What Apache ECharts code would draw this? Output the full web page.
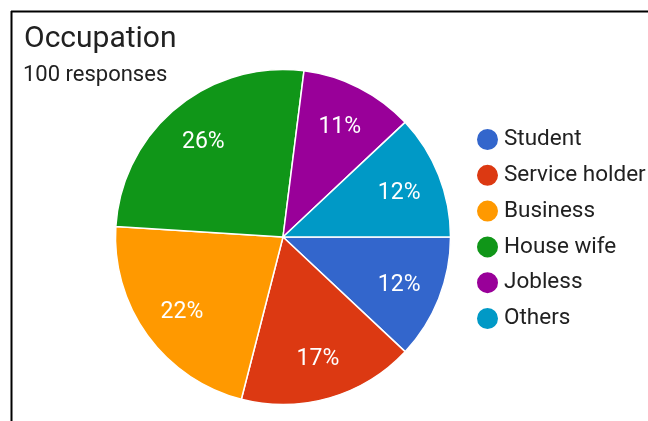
<!DOCTYPE html>
<html>
<head>
<meta charset="utf-8">
<script src="https://cdn.jsdelivr.net/npm/echarts@6/dist/echarts.min.js"></script>
<style>
  html, body { margin: 0; padding: 0; background: #fff; }
  #chart { width: 648px; height: 421px; }
</style>
</head>
<body>
<div id="chart"></div>
<script>
// Survey answers for the "Occupation" question (100 responses)
const categories = ['Student', 'Service holder', 'Business', 'House wife', 'Jobless', 'Others'];
const shares = [12, 17, 22, 26, 11, 12];
const colors = ['#3366cc', '#dc3912', '#ff9900', '#109618', '#990099', '#0099c6'];
const titleText = 'Occupation';
const subtitleText = '100 responses';

const FONT = 'Roboto, "Noto Sans", Arial, sans-serif';
const pieData = categories.map((name, i) => ({ name, value: shares[i] }));

const chart = echarts.init(document.getElementById('chart'), null, { renderer: 'canvas' });

chart.setOption({
  animation: false,
  color: colors,
  title: [
    {
      text: titleText,
      left: 19, top: 19,
      textStyle: { fontFamily: FONT, fontSize: 30, fontWeight: 'normal', color: '#212121' }
    },
    {
      text: subtitleText,
      left: 18, top: 59,
      textStyle: { fontFamily: FONT, fontSize: 22, fontWeight: 'normal', color: '#212121' }
    }
  ],
  legend: {
    orient: 'vertical',
    left: 470, top: 122,
    icon: 'circle',
    itemWidth: 23, itemHeight: 23,
    itemGap: 10.8,
    selectedMode: false,
    data: categories,
    textStyle: { fontFamily: FONT, fontSize: 22.5, color: '#212121', lineHeight: 23 }
  },
  graphic: [
    { type: 'line', shape: { x1: 11.5, y1: 11, x2: 11.5, y2: 421 }, style: { stroke: '#000', lineWidth: 2 }, silent: true },
    { type: 'line', shape: { x1: 11, y1: 11.5, x2: 648, y2: 11.5 }, style: { stroke: '#000', lineWidth: 2 }, silent: true }
  ],
  series: [
    {
      // the slices themselves
      type: 'pie',
      center: [283, 237],
      radius: [0, 167.5],
      startAngle: 0,
      clockwise: true,
      data: pieData,
      label: { show: false },
      labelLine: { show: false },
      itemStyle: { borderColor: '#fff', borderWidth: 1.5 },
      emphasis: { disabled: true },
      silent: true
    },
    {
      // transparent ring used only to seat the percentage labels further out
      type: 'pie',
      center: [283, 237],
      radius: [76, 168],
      startAngle: 0,
      clockwise: true,
      data: pieData,
      legendHoverLink: false,
      itemStyle: { color: 'rgba(0,0,0,0)', borderWidth: 0 },
      label: {
        show: true,
        position: 'inside',
        formatter: p => p.value + '%',
        fontFamily: FONT,
        fontSize: 23,
        color: '#ffffff',
        offset: [0, 2]
      },
      labelLine: { show: false },
      emphasis: { disabled: true },
      silent: true
    }
  ]
});
</script>
</body>
</html>
